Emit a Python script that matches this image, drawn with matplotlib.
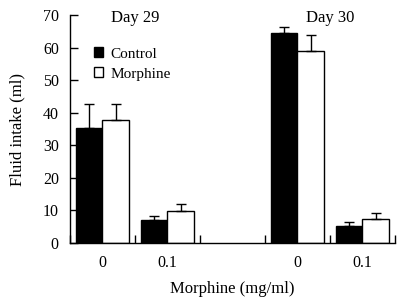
import numpy as np
import matplotlib.pyplot as plt
from matplotlib.patches import Patch

plt.rcParams['font.family'] = ['Liberation Serif', 'DejaVu Serif']

# data
slots = [0, 1, 3, 4]                 # slot 2 is the empty gap between days
tick_labels = ['0', '0.1', '0', '0.1']
control = [35.3, 7.1, 64.6, 5.3]
control_err = [7.4, 1.2, 1.8, 1.0]
morphine = [37.8, 9.9, 59.0, 7.3]
morphine_err = [4.9, 2.1, 4.9, 1.8]
day_titles = ['Day 29', 'Day 30']

fig = plt.figure(figsize=(4.05, 3.01), dpi=100)
ax = fig.add_axes([0.1728, 0.1927, 0.8022, 0.7573])

w = 0.405
x = np.array(slots, dtype=float)
ax.bar(x - w / 2, control, width=w, color='black', edgecolor='black', linewidth=1.0,
       label='Control', zorder=2)
ax.bar(x + w / 2, morphine, width=w, color='white', edgecolor='black', linewidth=1.0,
       label='Morphine', zorder=2)
ax.errorbar(x - w / 2, control, yerr=[np.zeros(4), control_err], fmt='none',
            ecolor='black', elinewidth=1.0, capsize=3.5, capthick=1.0, zorder=3)
ax.errorbar(x + w / 2, morphine, yerr=[np.zeros(4), morphine_err], fmt='none',
            ecolor='black', elinewidth=1.0, capsize=3.5, capthick=1.0, zorder=3)

ax.set_xlim(-0.5, 4.5)
ax.set_ylim(0, 70)
ax.set_yticks(range(0, 71, 10))
ax.set_xticks(x)
ax.set_xticklabels(tick_labels)
ax.set_xticks(np.arange(-0.5, 4.6, 1.0), minor=True)
ax.tick_params(axis='x', which='major', length=0, pad=9, labelsize=11.5)
ax.tick_params(axis='x', which='minor', direction='in', length=6, width=1.0)
ax.tick_params(axis='y', direction='in', length=6, width=1.0, labelsize=11.5, pad=8)

for s in ['top', 'right']:
    ax.spines[s].set_visible(False)
for s in ['left', 'bottom']:
    ax.spines[s].set_linewidth(1.0)

ax.set_ylabel('Fluid intake (ml)', fontsize=12)
ax.yaxis.set_label_coords(-0.138, 0.5)
ax.set_xlabel('Morphine (mg/ml)', fontsize=12)
ax.xaxis.set_label_coords(0.5, -0.167)

ax.text(0.5, 71.5, day_titles[0], ha='center', va='top', fontsize=12)
ax.text(3.5, 71.5, day_titles[1], ha='center', va='top', fontsize=12)

handles = [Patch(facecolor='black', edgecolor='black', label='Control'),
           Patch(facecolor='white', edgecolor='black', label='Morphine')]
ax.legend(handles=handles, loc='upper left', bbox_to_anchor=(0.055, 0.885), frameon=False,
          fontsize=11, handlelength=0.6, handleheight=0.6, handletextpad=0.5,
          labelspacing=0.45, borderaxespad=0)

fig.savefig('out.png', dpi=100)
